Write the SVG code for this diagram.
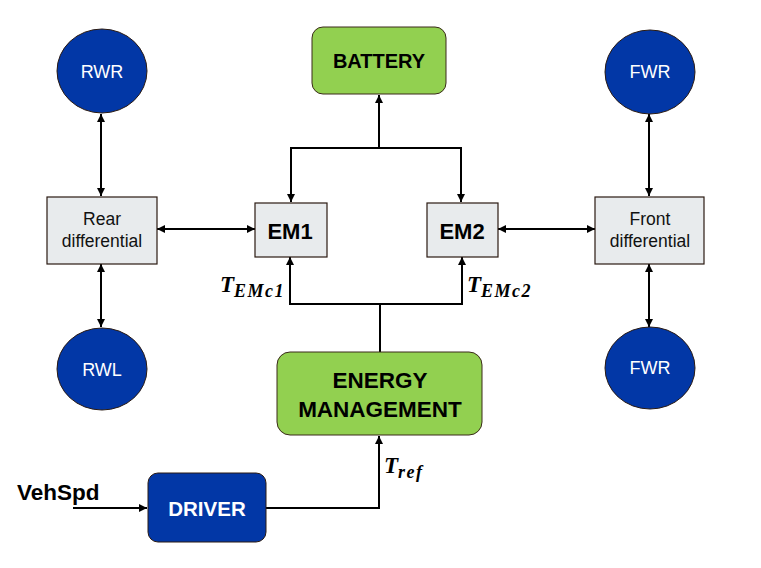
<svg xmlns="http://www.w3.org/2000/svg" width="761" height="568" viewBox="0 0 761 568">
<style>
.wheel{fill:#0237A6;stroke:#2a1a12;stroke-width:1}
.wtxt{font-family:"Liberation Sans",Arial,sans-serif;font-size:18px;fill:#ffffff;text-anchor:middle}
.gbox{fill:#E8EBED;stroke:#2a1a12;stroke-width:1.2}
.dtxt{font-family:"Liberation Sans",Arial,sans-serif;font-size:17.5px;fill:#111;text-anchor:middle}
.emtxt{font-family:"Liberation Sans",Arial,sans-serif;font-size:22px;font-weight:bold;fill:#000;text-anchor:middle}
.green{fill:#92D050;stroke:#3a2a1a;stroke-width:1}
.btxt{font-family:"Liberation Sans",Arial,sans-serif;font-weight:bold;fill:#000;text-anchor:middle}
.math{font-family:"Liberation Serif","Times New Roman",serif;font-weight:bold;font-style:italic;fill:#000}
.sub{font-size:18px;letter-spacing:1.5px}
.conn{fill:none;stroke:#000;stroke-width:2}
</style>
<defs>
<marker id="ah" viewBox="0 0 10 10" refX="10" refY="5" markerWidth="10" markerHeight="8" orient="auto-start-reverse" markerUnits="userSpaceOnUse">
<path d="M0,0 L10,5 L0,10 z" fill="#000"/>
</marker>
</defs>

<g id="connectors">
<line class="conn" x1="101" y1="114" x2="101" y2="196" marker-start="url(#ah)" marker-end="url(#ah)"/>
<line class="conn" x1="101" y1="264" x2="101" y2="327" marker-start="url(#ah)" marker-end="url(#ah)"/>
<line class="conn" x1="157" y1="229" x2="255" y2="229" marker-start="url(#ah)" marker-end="url(#ah)"/>
<line class="conn" x1="498" y1="229" x2="595" y2="229" marker-start="url(#ah)" marker-end="url(#ah)"/>
<line class="conn" x1="649" y1="114" x2="649" y2="196" marker-start="url(#ah)" marker-end="url(#ah)"/>
<line class="conn" x1="649" y1="264" x2="649" y2="327" marker-start="url(#ah)" marker-end="url(#ah)"/>
<line class="conn" x1="379" y1="148" x2="379" y2="95" marker-end="url(#ah)"/>
<path class="conn" d="M379,148 H291 V202" marker-end="url(#ah)"/>
<path class="conn" d="M379,148 H461 V202" marker-end="url(#ah)"/>
<path class="conn" d="M380,352 V304 H290 V257" marker-end="url(#ah)"/>
<path class="conn" d="M380,304 H462 V257" marker-end="url(#ah)"/>
<path class="conn" d="M73,508 H147" marker-end="url(#ah)"/>
<path class="conn" d="M266,508 H379 V436" marker-end="url(#ah)"/>
</g>

<g id="RWR">
<ellipse class="wheel" cx="102" cy="71" rx="45" ry="42"/>
<text class="wtxt" x="102" y="78">RWR</text>
</g>
<g id="RWL">
<ellipse class="wheel" cx="102" cy="369" rx="45" ry="41"/>
<text class="wtxt" x="102" y="376">RWL</text>
</g>
<g id="FWR_top">
<ellipse class="wheel" cx="650" cy="72" rx="45" ry="42"/>
<text class="wtxt" x="650" y="78">FWR</text>
</g>
<g id="FWR_bottom">
<ellipse class="wheel" cx="650" cy="368" rx="45" ry="41"/>
<text class="wtxt" x="650" y="374">FWR</text>
</g>

<g id="rear_diff">
<rect class="gbox" x="47" y="197" width="110" height="67"/>
<text class="dtxt" x="102" y="225">Rear</text>
<text class="dtxt" x="102" y="247">differential</text>
</g>
<g id="front_diff">
<rect class="gbox" x="595" y="197" width="109" height="67"/>
<text class="dtxt" x="650" y="225">Front</text>
<text class="dtxt" x="650" y="247">differential</text>
</g>

<g id="EM1">
<rect class="gbox" x="255" y="203" width="72" height="54"/>
<text class="emtxt" x="290" y="239">EM1</text>
</g>
<g id="EM2">
<rect class="gbox" x="427" y="203" width="71" height="54"/>
<text class="emtxt" x="462" y="239">EM2</text>
</g>

<g id="battery">
<rect class="green" x="312" y="27" width="134" height="67" rx="11"/>
<text class="btxt" x="379" y="68" font-size="20">BATTERY</text>
</g>

<g id="energy_management">
<rect class="green" x="277" y="352" width="205" height="83" rx="13"/>
<text class="btxt" x="380" y="388" font-size="22.5">ENERGY</text>
<text class="btxt" x="380" y="417" font-size="22.5">MANAGEMENT</text>
</g>

<g id="driver">
<rect x="148" y="473" width="118" height="69" rx="10" fill="#0237A6" stroke="#2a1a12" stroke-width="1"/>
<text class="btxt" x="207" y="516" font-size="20.5" style="fill:#fff">DRIVER</text>
</g>

<g id="labels">
<text class="btxt" x="17" y="500" font-size="22.5" style="text-anchor:start">VehSpd</text>
<text class="math" x="220" y="292"><tspan font-size="23">T</tspan><tspan class="sub" dy="5">EMc1</tspan></text>
<text class="math" x="467" y="292"><tspan font-size="23">T</tspan><tspan class="sub" dy="5">EMc2</tspan></text>
<text class="math" x="384" y="473"><tspan font-size="23">T</tspan><tspan class="sub" dy="5">ref</tspan></text>
</g>
</svg>
